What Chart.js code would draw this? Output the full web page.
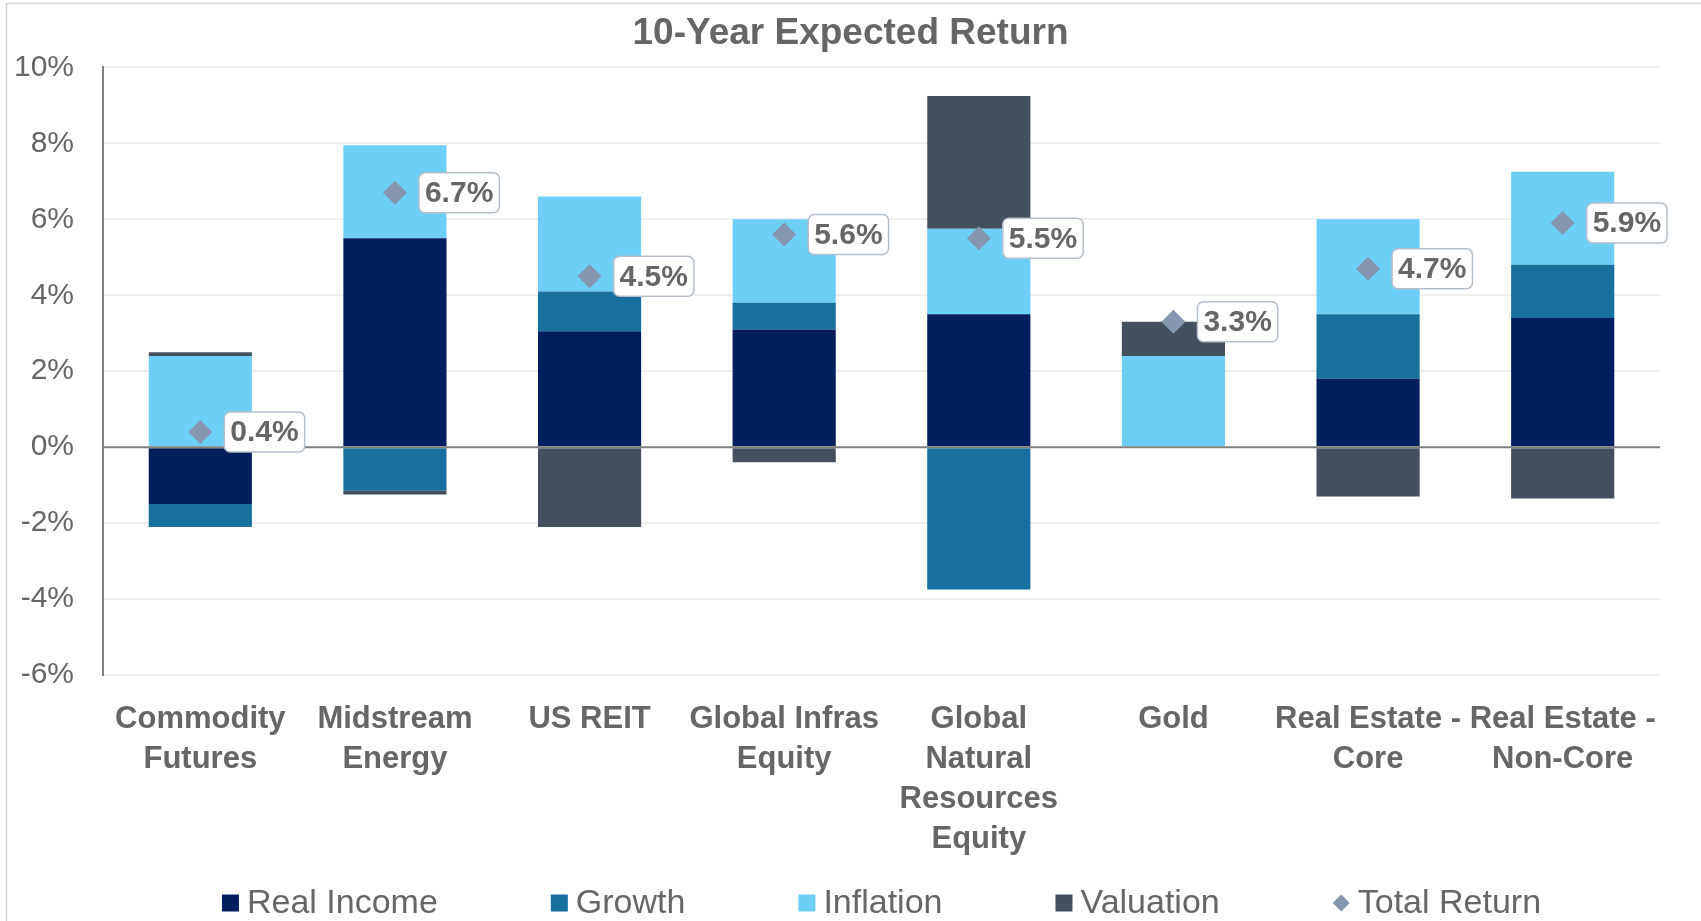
<!DOCTYPE html>
<html>
<head>
<meta charset="utf-8">
<title>10-Year Expected Return</title>
<script src="https://cdn.jsdelivr.net/npm/chart.js@4.4.1/dist/chart.umd.min.js"></script>
<style>
  html, body { margin: 0; padding: 0; background: #fff; }
  #wrap { position: relative; width: 1701px; height: 921px; }
</style>
</head>
<body>
<div id="wrap"><canvas id="chart"></canvas></div>
<script>
// Asset classes on the x axis (multi-line labels)
const categories = [
  ['Commodity', 'Futures'],
  ['Midstream', 'Energy'],
  'US REIT',
  ['Global Infras', 'Equity'],
  ['Global', 'Natural', 'Resources', 'Equity'],
  'Gold',
  ['Real Estate -', 'Core'],
  ['Real Estate -', 'Non-Core']
];

// Return components, in percent
const realIncome  = [-1.5, 5.5, 3.05, 3.1, 3.5, 0, 1.8, 3.4];
const growth      = [-0.6, -1.15, 1.05, 0.7, -3.75, 0, 1.7, 1.4];
const inflation   = [2.4, 2.45, 2.5, 2.2, 2.25, 2.4, 2.5, 2.45];
const valuation   = [0.1, -0.1, -2.1, -0.4, 3.5, 0.9, -1.3, -1.35];
const totalReturn = [0.4, 6.7, 4.5, 5.6, 5.5, 3.3, 4.7, 5.9];

// Y axis tick values, in percent
const yTicks = [-6, -4, -2, 0, 2, 4, 6, 8, 10];

const FONT = "'Liberation Sans', Arial, Helvetica, sans-serif";
const TEXT = '#666666';

// Light frame along the top and left edges
const framePlugin = {
  id: 'frame',
  beforeDraw(chart) {
    const ctx = chart.ctx;
    ctx.save();
    ctx.fillStyle = '#ffffff';
    ctx.fillRect(0, 0, chart.width, chart.height);
    ctx.strokeStyle = '#d2d2d2';
    ctx.lineWidth = 1.5;
    ctx.beginPath();
    ctx.moveTo(6.5, chart.height);
    ctx.lineTo(6.5, 3.5);
    ctx.lineTo(chart.width, 3.5);
    ctx.stroke();
    ctx.restore();
  }
};

// Zero line over the bars, plus the boxed total-return callouts
const overlayPlugin = {
  id: 'overlay',
  afterDatasetsDraw(chart) {
    const { ctx, chartArea, scales } = chart;
    const y0 = scales.y.getPixelForValue(0);
    ctx.save();
    ctx.strokeStyle = '#808080';
    ctx.lineWidth = 2;
    ctx.beginPath();
    ctx.moveTo(chartArea.left, y0);
    ctx.lineTo(chartArea.right, y0);
    ctx.stroke();

    const idx = chart.data.datasets.findIndex(d => d.type === 'line');
    const meta = chart.getDatasetMeta(idx);
    ctx.font = `bold 30px ${FONT}`;
    ctx.textBaseline = 'middle';
    ctx.textAlign = 'left';
    meta.data.forEach((pt, i) => {
      const txt = totalReturn[i].toFixed(1) + '%';
      const w = ctx.measureText(txt).width + 12;
      const h = 40;
      const bx = pt.x + 24;
      const by = pt.y - h / 2;
      ctx.beginPath();
      ctx.roundRect(bx, by, w, h, 6);
      ctx.fillStyle = '#ffffff';
      ctx.fill();
      ctx.strokeStyle = '#b4bfcc';
      ctx.lineWidth = 1.5;
      ctx.stroke();
      ctx.fillStyle = TEXT;
      ctx.fillText(txt, bx + 6, pt.y + 1);
    });
    ctx.restore();
  }
};

// Single-row legend centred under the plot area
const legendRowPlugin = {
  id: 'legendRow',
  afterDraw(chart) {
    const { ctx, chartArea } = chart;
    const box = 17, gapIn = 8, gapOut = 113, cy = 903;
    ctx.save();
    ctx.font = `34px ${FONT}`;
    ctx.textBaseline = 'middle';
    ctx.textAlign = 'left';
    const items = chart.data.datasets.map(ds => ({
      label: ds.label, color: ds.backgroundColor, diamond: ds.type === 'line'
    }));
    const widths = items.map(it => box + gapIn + ctx.measureText(it.label).width);
    const total = widths.reduce((a, b) => a + b, 0) + gapOut * (items.length - 1);
    let x = (chartArea.left + chartArea.right) / 2 - total / 2;
    items.forEach((it, i) => {
      ctx.fillStyle = it.color;
      if (it.diamond) {
        ctx.beginPath();
        ctx.moveTo(x + box / 2, cy - box / 2);
        ctx.lineTo(x + box, cy);
        ctx.lineTo(x + box / 2, cy + box / 2);
        ctx.lineTo(x, cy);
        ctx.closePath();
        ctx.fill();
      } else {
        ctx.fillRect(x, cy - box / 2, box, box);
      }
      ctx.fillStyle = TEXT;
      ctx.fillText(it.label, x + box + gapIn, cy + 1);
      x += widths[i] + gapOut;
    });
    ctx.restore();
  }
};

const barCommon = { barPercentage: 0.53, categoryPercentage: 1.0, borderWidth: 0, order: 1 };

new Chart(document.getElementById('chart'), {
  type: 'bar',
  data: {
    labels: categories,
    datasets: [
      { ...barCommon, label: 'Real Income', data: realIncome, backgroundColor: '#001F5C' },
      { ...barCommon, label: 'Growth',      data: growth,     backgroundColor: '#17709D' },
      { ...barCommon, label: 'Inflation',   data: inflation,  backgroundColor: '#6DCFF6' },
      { ...barCommon, label: 'Valuation',   data: valuation,  backgroundColor: '#44505D' },
      {
        type: 'line', label: 'Total Return', data: totalReturn, stack: 'total',
        showLine: false, pointStyle: 'rectRot', pointRadius: 12, pointHoverRadius: 12,
        backgroundColor: '#8496B0', borderColor: '#8496B0', borderWidth: 0, order: 0
      }
    ]
  },
  options: {
    responsive: true,
    maintainAspectRatio: false,
    animation: false,
    events: [],
    layout: { padding: 0 },
    plugins: {
      legend: { display: false },
      tooltip: { enabled: false },
      title: {
        display: true,
        text: '10-Year Expected Return',
        color: TEXT,
        font: { family: FONT, size: 37, weight: 'bold' },
        padding: { top: 12, bottom: 11 }
      }
    },
    scales: {
      x: {
        stacked: true,
        grid: { display: false },
        border: { display: false },
        ticks: {
          autoSkip: false, maxRotation: 0, minRotation: 0, padding: 16,
          color: TEXT,
          font: { family: FONT, size: 31, weight: 'bold', lineHeight: 1.29 }
        },
        afterFit(s) { s.height = 246; }
      },
      y: {
        stacked: true,
        min: -6,
        max: 10,
        afterBuildTicks(s) { s.ticks = yTicks.map(v => ({ value: v })); },
        grid: { color: '#eeeeee', lineWidth: 2, drawTicks: false },
        border: { display: true, color: '#808080', width: 2 },
        ticks: {
          padding: 29, color: TEXT,
          font: { family: FONT, size: 30 },
          callback: v => v + '%'
        },
        afterFit(s) { s.width = 103; }
      },
      // empty right-hand margin axis keeps the plot clear of the right edge
      margin: {
        type: 'linear',
        position: 'right',
        display: true,
        grid: { display: false },
        border: { display: false },
        ticks: { display: false },
        afterFit(s) { s.width = 41; }
      }
    }
  },
  plugins: [framePlugin, overlayPlugin, legendRowPlugin]
});
</script>
</body>
</html>
